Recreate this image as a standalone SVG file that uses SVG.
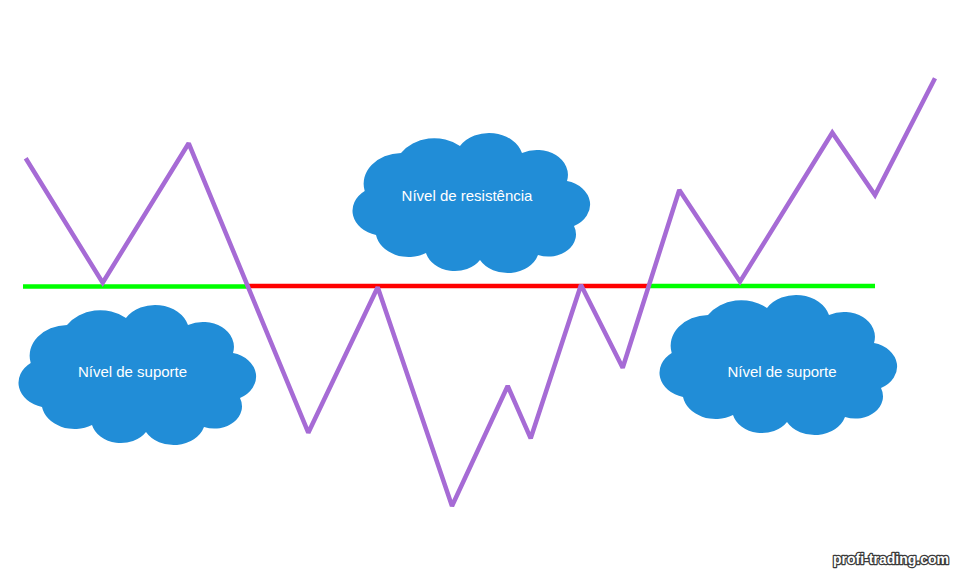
<svg xmlns="http://www.w3.org/2000/svg" width="960" height="577" viewBox="0 0 960 577">
<style>
.cloud{fill:#218dd7}
.lbl{font-family:"Liberation Sans",Arial,sans-serif;font-size:15px;fill:#ffffff;text-anchor:middle}
.lvl{fill:none;stroke-width:4.5}
.sup{stroke:#00ff00}
.res{stroke:#ff0000}
.price{fill:none;stroke:#a66bd5;stroke-width:4.5;stroke-linejoin:miter;stroke-miterlimit:2}
.wm{font-family:"Liberation Sans",Arial,sans-serif;font-weight:bold;font-size:14px;fill:#ffffff;stroke:#3a3a3a;stroke-width:2.5;paint-order:stroke;stroke-linejoin:round;text-anchor:middle}
</style>
<defs>
<path id="cloudShape" d="M49,20 A39.4,31.8 0 0 1 108,13 A34.2,27.6 0 0 1 170,20 A31,25 0 0 1 215,48 A30,24.2 0 0 1 222,93 A27.7,22.3 0 0 1 186,122 A31.7,25.5 0 0 1 128,127 A29.8,24 0 0 1 74,120 A33.1,26.7 0 0 1 24,102 A30.9,24.9 0 0 1 12.7,58 A38.2,30.8 0 0 1 49,20 Z"/>
</defs>
<rect width="960" height="577" fill="#ffffff"/>
<g id="connectors">
<line class="lvl sup" x1="23" y1="286.5" x2="248" y2="286.5"/>
<line class="lvl res" x1="248" y1="286" x2="650" y2="286"/>
<line class="lvl sup" x1="650" y1="286" x2="875" y2="286"/>
<polyline class="price" points="25.7,158.3 102.7,282.7 188.7,143.3 308.3,432.7 377.7,287.3 452,506 507.7,386 530.7,438.3 581,285 622.7,367.7 679.3,190 740,281.7 832.3,132.7 875,195 935,78.3"/>
</g>
<g id="cloud-resistance">
<use href="#cloudShape" class="cloud" transform="translate(352,133)"/>
<text class="lbl" x="467" y="201">Nível de resistência</text>
</g>
<g id="cloud-support-left">
<use href="#cloudShape" class="cloud" transform="translate(18,305)"/>
<text class="lbl" x="132.5" y="377">Nível de suporte</text>
</g>
<g id="cloud-support-right">
<use href="#cloudShape" class="cloud" transform="translate(659,295)"/>
<text class="lbl" x="782" y="377">Nível de suporte</text>
</g>
<g id="watermark">
<text class="wm" x="891" y="564">profi-trading.com</text>
</g>
</svg>
